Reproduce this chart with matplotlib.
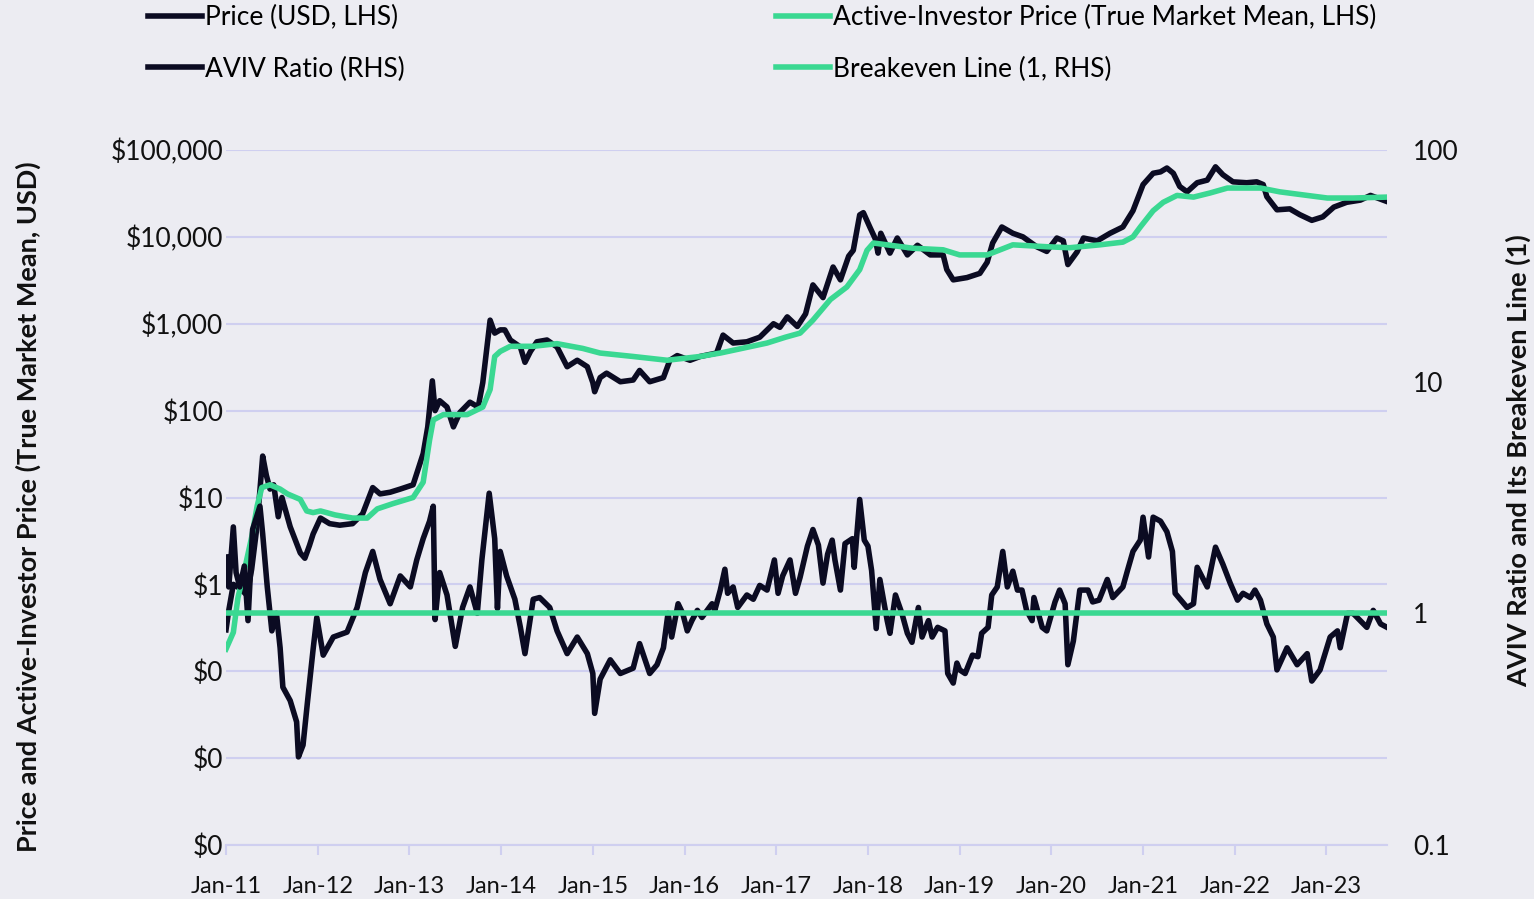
import matplotlib
matplotlib.use("Agg")
import matplotlib.pyplot as plt
from matplotlib.ticker import FixedLocator, FuncFormatter, NullLocator

# price (USD), dates as decimal years
price_t = [2011.00, 2011.03, 2011.08, 2011.15, 2011.23, 2011.28, 2011.33, 2011.36, 2011.40, 2011.44,
           2011.48, 2011.52, 2011.57, 2011.61, 2011.70, 2011.81, 2011.86, 2011.91, 2011.95, 2012.03,
           2012.13, 2012.24, 2012.38, 2012.49, 2012.60, 2012.68, 2012.79, 2012.90, 2013.04, 2013.15,
           2013.20, 2013.25, 2013.28, 2013.33, 2013.41, 2013.48, 2013.55, 2013.66, 2013.75, 2013.80,
           2013.85, 2013.88, 2013.93, 2013.99, 2014.04, 2014.10, 2014.21, 2014.26, 2014.32, 2014.39,
           2014.50, 2014.61, 2014.72, 2014.83, 2014.94, 2015.00, 2015.02, 2015.08, 2015.15, 2015.30,
           2015.44, 2015.51, 2015.62, 2015.77, 2015.84, 2015.92, 2016.06, 2016.17, 2016.35, 2016.42,
           2016.53, 2016.68, 2016.82, 2016.97, 2017.04, 2017.12, 2017.23, 2017.32, 2017.40, 2017.51,
           2017.62, 2017.70, 2017.79, 2017.84, 2017.91, 2017.95, 2018.02, 2018.08, 2018.11, 2018.14,
           2018.24, 2018.32, 2018.43, 2018.54, 2018.68, 2018.82, 2018.86, 2018.93, 2019.08, 2019.22,
           2019.30, 2019.36, 2019.46, 2019.58, 2019.69, 2019.84, 2019.95, 2020.06, 2020.13, 2020.18,
           2020.28, 2020.35, 2020.50, 2020.64, 2020.78, 2020.89, 2021.00, 2021.11, 2021.19, 2021.26,
           2021.33, 2021.40, 2021.48, 2021.59, 2021.70, 2021.79, 2021.87, 2021.98, 2022.13, 2022.24,
           2022.31, 2022.35, 2022.46, 2022.60, 2022.71, 2022.84, 2022.96, 2023.08, 2023.22, 2023.37,
           2023.48, 2023.62, 2023.66]
price_v = [0.30, 0.5, 1.0, 0.9, 0.75, 1.5, 4, 9, 30, 18,
           12.5, 14, 6, 10, 4.6, 2.3, 2.0, 2.8, 3.8, 5.8,
           5.0, 4.8, 5.0, 6.5, 13, 11, 11.5, 12.5, 14, 32,
           65, 220, 100, 130, 110, 65, 95, 125, 110, 210,
           600, 1100, 780, 850, 850, 650, 540, 360, 480, 620,
           650, 540, 320, 380, 320, 210, 165, 240, 270, 215,
           225, 290, 215, 240, 380, 430, 380, 420, 460, 740,
           600, 620, 700, 1000, 910, 1200, 930, 1300, 2800, 2000,
           4500, 3200, 6000, 7000, 17900, 19000, 13000, 9500, 6500, 11000,
           6500, 9700, 6200, 8000, 6200, 6200, 4200, 3200, 3400, 3800,
           5100, 8500, 13000, 11000, 10000, 7700, 6800, 9700, 9000, 4800,
           6700, 9700, 9000, 11000, 13000, 20000, 40000, 54000, 56000, 62000,
           54000, 38000, 33000, 42000, 45000, 64000, 52000, 43000, 42000, 43000,
           40000, 29000, 20500, 21000, 18000, 15500, 17000, 22000, 25000, 26500,
           30000, 26500, 25500]

# active-investor price (true market mean, USD)
aip_t = [2011.00, 2011.08, 2011.13, 2011.22, 2011.28, 2011.34, 2011.39, 2011.48, 2011.59, 2011.67,
         2011.81, 2011.88, 2011.95, 2012.03, 2012.19, 2012.38, 2012.54, 2012.65, 2012.82, 2013.04,
         2013.15, 2013.22, 2013.26, 2013.37, 2013.63, 2013.80, 2013.88, 2013.93, 2013.99, 2014.10,
         2014.35, 2014.61, 2014.89, 2015.08, 2015.44, 2015.81, 2016.17, 2016.39, 2016.90, 2017.10,
         2017.26, 2017.40, 2017.59, 2017.77, 2017.91, 2017.99, 2018.06, 2018.49, 2018.82, 2019.00,
         2019.30, 2019.58, 2019.95, 2020.20, 2020.53, 2020.78, 2020.89, 2020.97, 2021.11, 2021.22,
         2021.37, 2021.55, 2021.73, 2021.92, 2022.28, 2022.49, 2022.79, 2023.01, 2023.29, 2023.66]
aip_v = [0.18, 0.28, 0.7, 1.8, 3.5, 8, 13, 14, 12.5, 11,
         9.5, 7.0, 6.7, 7.0, 6.3, 5.8, 5.8, 7.4, 8.5, 10,
         15, 46, 78, 90, 90, 110, 175, 420, 480, 550,
         550, 590, 520, 460, 420, 380, 420, 460, 600, 700,
         780, 1100, 1900, 2650, 4200, 7000, 8500, 7400, 7100, 6200,
         6200, 8100, 7700, 7500, 8100, 8700, 10000, 13000, 20000, 25000,
         30000, 28700, 32000, 36500, 36500, 33000, 30000, 28000, 28000, 28700]

# AVIV ratio
aviv_t = [2011.00, 2011.03, 2011.08, 2011.11, 2011.15, 2011.20, 2011.24, 2011.29, 2011.37, 2011.40,
          2011.45, 2011.50, 2011.55, 2011.59, 2011.62, 2011.70, 2011.77, 2011.79, 2011.84, 2011.89,
          2011.95, 2011.99, 2012.06, 2012.17, 2012.32, 2012.43, 2012.52, 2012.60, 2012.68, 2012.79,
          2012.90, 2013.01, 2013.08, 2013.15, 2013.22, 2013.26, 2013.28, 2013.33, 2013.41, 2013.50,
          2013.58, 2013.66, 2013.74, 2013.79, 2013.87, 2013.93, 2013.96, 2013.99, 2014.06, 2014.15,
          2014.21, 2014.26, 2014.35, 2014.42, 2014.53, 2014.61, 2014.72, 2014.83, 2014.94, 2015.00,
          2015.02, 2015.08, 2015.19, 2015.30, 2015.44, 2015.51, 2015.62, 2015.70, 2015.77, 2015.82,
          2015.86, 2015.93, 2015.98, 2016.03, 2016.08, 2016.14, 2016.19, 2016.30, 2016.33, 2016.39,
          2016.44, 2016.47, 2016.53, 2016.58, 2016.68, 2016.75, 2016.82, 2016.90, 2016.98, 2017.02,
          2017.07, 2017.15, 2017.21, 2017.26, 2017.34, 2017.40, 2017.46, 2017.51, 2017.56, 2017.61,
          2017.64, 2017.70, 2017.75, 2017.83, 2017.85, 2017.91, 2017.96, 2018.00, 2018.04, 2018.09,
          2018.13, 2018.21, 2018.24, 2018.30, 2018.37, 2018.43, 2018.48, 2018.55, 2018.59, 2018.66,
          2018.70, 2018.76, 2018.84, 2018.87, 2018.93, 2018.97, 2019.00, 2019.06, 2019.14, 2019.20,
          2019.24, 2019.31, 2019.35, 2019.41, 2019.47, 2019.52, 2019.58, 2019.63, 2019.68, 2019.73,
          2019.79, 2019.81, 2019.90, 2019.95, 2020.04, 2020.09, 2020.15, 2020.18, 2020.24, 2020.31,
          2020.40, 2020.45, 2020.52, 2020.61, 2020.67, 2020.78, 2020.83, 2020.89, 2020.97, 2021.00,
          2021.06, 2021.11, 2021.19, 2021.26, 2021.32, 2021.35, 2021.48, 2021.55, 2021.59, 2021.70,
          2021.79, 2021.87, 2021.95, 2022.03, 2022.09, 2022.17, 2022.22, 2022.28, 2022.35, 2022.42,
          2022.46, 2022.57, 2022.68, 2022.79, 2022.84, 2022.93, 2023.04, 2023.12, 2023.15, 2023.23,
          2023.29, 2023.44, 2023.51, 2023.59, 2023.66]
aviv_v = [1.75, 1.3, 2.36, 1.5, 1.3, 1.6, 0.93, 2.3, 2.9, 2.2,
          1.3, 0.84, 1.0, 0.71, 0.48, 0.42, 0.34, 0.24, 0.27, 0.42,
          0.7, 0.96, 0.66, 0.79, 0.83, 1.06, 1.5, 1.85, 1.4, 1.1,
          1.45, 1.3, 1.7, 2.1, 2.5, 2.9, 0.94, 1.5, 1.2, 0.72,
          1.06, 1.3, 1.0, 1.7, 3.3, 2.1, 1.05, 1.85, 1.45, 1.15,
          0.87, 0.67, 1.15, 1.17, 1.06, 0.84, 0.67, 0.79, 0.67, 0.55,
          0.37, 0.52, 0.63, 0.55, 0.58, 0.74, 0.55, 0.6, 0.71, 1.0,
          0.79, 1.1, 1.0, 0.84, 0.93, 1.03, 0.96, 1.1, 1.03, 1.26,
          1.55, 1.22, 1.3, 1.06, 1.2, 1.15, 1.32, 1.26, 1.7, 1.22,
          1.45, 1.7, 1.22, 1.43, 1.95, 2.3, 1.97, 1.35, 1.8, 2.07,
          1.7, 1.26, 2.0, 2.1, 1.58, 3.1, 2.07, 1.95, 1.53, 0.86,
          1.4, 0.93, 0.82, 1.2, 1.0, 0.82, 0.75, 1.06, 0.79, 0.93,
          0.79, 0.87, 0.84, 0.55, 0.5, 0.61, 0.57, 0.55, 0.66, 0.65,
          0.82, 0.87, 1.2, 1.3, 1.85, 1.3, 1.52, 1.26, 1.26, 1.03,
          0.93, 1.17, 0.87, 0.84, 1.12, 1.26, 1.1, 0.6, 0.76, 1.26,
          1.26, 1.12, 1.14, 1.4, 1.17, 1.3, 1.53, 1.85, 2.07, 2.6,
          1.75, 2.6, 2.5, 2.25, 1.85, 1.22, 1.06, 1.1, 1.58, 1.3,
          1.93, 1.63, 1.35, 1.14, 1.22, 1.17, 1.26, 1.14, 0.9, 0.79,
          0.57, 0.71, 0.6, 0.67, 0.51, 0.57, 0.79, 0.84, 0.71, 1.0,
          1.0, 0.87, 1.03, 0.9, 0.87]

# breakeven line
breakeven_t = [2011.00, 2023.66]
breakeven_v = [1, 1]

year_ticks = list(range(2011, 2024))
year_labels = ["Jan-11", "Jan-12", "Jan-13", "Jan-14", "Jan-15", "Jan-16", "Jan-17",
               "Jan-18", "Jan-19", "Jan-20", "Jan-21", "Jan-22", "Jan-23"]
left_ticks = [1e5, 1e4, 1e3, 1e2, 10, 1, 0.1, 0.01, 0.001]
right_ticks = [100, 10, 1, 0.1]

dark = "#0b0b22"
green = "#3ad892"
bg = "#ececf2"
grid = "#cfcff0"
txt = "#111111"

plt.rcParams["font.family"] = ["Lato", "DejaVu Sans"]

fig = plt.figure(figsize=(15.34, 8.99), dpi=100, facecolor=bg)
ax = fig.add_axes([226 / 1534, 1 - 845 / 899, (1387 - 226) / 1534, 695 / 899])
ax.set_facecolor(bg)
ax2 = ax.twinx()

ln_price, = ax.plot(price_t, price_v, color=dark, lw=4, solid_joinstyle="round",
                    label="Price (USD, LHS)", zorder=2)
ln_aip, = ax.plot(aip_t, aip_v, color=green, lw=4, label="Active-Investor Price (True Market Mean, LHS)",
                  zorder=3)
ln_aviv, = ax2.plot(aviv_t, aviv_v, color=dark, lw=4, solid_joinstyle="round", label="AVIV Ratio (RHS)")
ln_be, = ax2.plot(breakeven_t, breakeven_v, color=green, lw=4, label="Breakeven Line (1, RHS)")

ax.set_yscale("log")
ax.set_ylim(0.001, 1e5)
ax2.set_yscale("log")
ax2.set_ylim(0.1, 100)
ax.set_xlim(2011.0, 2023.66)

ax.yaxis.set_major_locator(FixedLocator(left_ticks))
ax.yaxis.set_minor_locator(NullLocator())
ax.yaxis.set_major_formatter(FuncFormatter(lambda v, p: "${:,.0f}".format(v)))
ax2.yaxis.set_major_locator(FixedLocator(right_ticks))
ax2.yaxis.set_minor_locator(NullLocator())
ax2.yaxis.set_major_formatter(FuncFormatter(lambda v, p: "{:g}".format(v)))

ax.set_xticks(year_ticks)
ax.set_xticklabels(year_labels)

ax.grid(axis="y", color=grid, lw=1.5)
ax.set_axisbelow(True)
for a in (ax, ax2):
    for s in ("top", "left", "right"):
        a.spines[s].set_visible(False)
ax.spines["bottom"].set_color(grid)
ax.spines["bottom"].set_linewidth(1.5)
ax2.spines["bottom"].set_visible(False)

ax.tick_params(axis="y", length=0, pad=2, labelsize=19, labelcolor=txt)
ax2.tick_params(axis="y", length=0, pad=19, labelsize=19, labelcolor=txt)
ax.tick_params(axis="x", length=7, width=1.5, color=grid, pad=15, labelsize=17, labelcolor=txt)

fig.text(28 / 1534, 1 - 507 / 899, "Price and Active-Investor Price (True Market Mean, USD)",
         rotation=90, ha="center", va="center", fontsize=19.5, fontweight="bold", color=txt)
fig.text(1518 / 1534, 1 - 461 / 899, "AVIV Ratio and Its Breakeven Line (1)",
         rotation=90, ha="center", va="center", fontsize=19.5, fontweight="bold", color=txt)

leg_kw = dict(frameon=False, fontsize=19, handlelength=2.05, handletextpad=0.11,
              labelspacing=1.0, borderpad=0, borderaxespad=0, loc="upper left")
fig.legend([ln_price, ln_aviv], [ln_price.get_label(), ln_aviv.get_label()],
           bbox_to_anchor=(148 / 1534, 1 - 5 / 899), **leg_kw)
fig.legend([ln_aip, ln_be], [ln_aip.get_label(), ln_be.get_label()],
           bbox_to_anchor=(776 / 1534, 1 - 5 / 899), **leg_kw)

fig.savefig("out.png", dpi=100, facecolor=bg)
